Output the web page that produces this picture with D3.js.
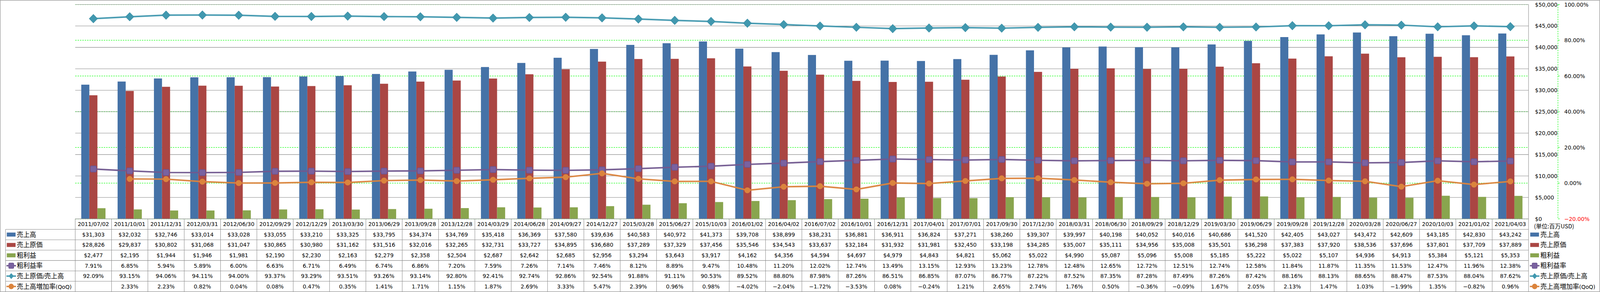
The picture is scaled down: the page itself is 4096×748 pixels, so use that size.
<!DOCTYPE html>
<html><head><meta charset="utf-8">
<script src="https://cdn.jsdelivr.net/npm/d3@7"></script>
<style>html,body{margin:0;padding:0;background:#fff;overflow:hidden}</style>
</head><body>
<svg id="c" width="4096" height="748" viewBox="0 0 4701 858" preserveAspectRatio="none"></svg>
<script>
const dates = ["2011/07/02","2011/10/01","2011/12/31","2012/03/31","2012/06/30","2012/09/29","2012/12/29","2013/03/30","2013/06/29","2013/09/28","2013/12/28","2014/03/29","2014/06/28","2014/09/27","2014/12/27","2015/03/28","2015/06/27","2015/10/03","2016/01/02","2016/04/02","2016/07/02","2016/10/01","2016/12/31","2017/04/01","2017/07/01","2017/09/30","2017/12/30","2018/03/31","2018/06/30","2018/09/29","2018/12/29","2019/03/30","2019/06/29","2019/09/28","2019/12/28","2020/03/28","2020/06/27","2020/10/03","2021/01/02","2021/04/03"];
const sales = [31303,32032,32746,33014,33028,33055,33210,33325,33795,34374,34769,35418,36369,37580,39636,40583,40972,41373,39708,38899,38231,36881,36911,36824,37271,38260,39307,39997,40198,40052,40016,40686,41520,42405,43027,43472,42609,43185,42830,43242];
const cost = [28826,29837,30802,31068,31047,30865,30980,31162,31516,32016,32265,32731,33727,34895,36680,37289,37329,37456,35546,34543,33637,32184,31932,31981,32450,33198,34285,35007,35111,34956,35008,35501,36298,37383,37920,38536,37696,37801,37709,37889];
const gross = [2477,2195,1944,1946,1981,2190,2230,2163,2279,2358,2504,2687,2642,2685,2956,3294,3643,3917,4162,4356,4594,4697,4979,4843,4821,5062,5022,4990,5087,5096,5008,5185,5222,5022,5107,4936,4913,5384,5121,5353];
const marginRate = [7.91,6.85,5.94,5.89,6.00,6.63,6.71,6.49,6.74,6.86,7.20,7.59,7.26,7.14,7.46,8.12,8.89,9.47,10.48,11.20,12.02,12.74,13.49,13.15,12.93,13.23,12.78,12.48,12.65,12.72,12.51,12.74,12.58,11.84,11.87,11.35,11.53,12.47,11.96,12.38];
const costRatio = [92.09,93.15,94.06,94.11,94.00,93.37,93.29,93.51,93.26,93.14,92.80,92.41,92.74,92.86,92.54,91.88,91.11,90.53,89.52,88.80,87.98,87.26,86.51,86.85,87.07,86.77,87.22,87.52,87.35,87.28,87.49,87.26,87.42,88.16,88.13,88.65,88.47,87.53,88.04,87.62];
const qoq = [null,2.33,2.23,0.82,0.04,0.08,0.47,0.35,1.41,1.71,1.15,1.87,2.69,3.33,5.47,2.39,0.96,0.98,-4.02,-2.04,-1.72,-3.53,0.08,-0.24,1.21,2.65,2.74,1.76,0.50,-0.36,-0.09,1.67,2.05,2.13,1.47,1.03,-1.99,1.35,-0.82,0.96];
const leftTicks = [0,5000,10000,15000,20000,25000,30000,35000,40000,45000,50000];
const rightTicks = [-20,0,20,40,60,80,100];
const seriesNames = ["売上高","売上原価","粗利益","粗利益率","売上原価/売上高","売上高増加率(QoQ)"];
const unitLabel = "(単位:百万USD)";

const C = {blue:"#4572A7", red:"#AA4643", green:"#89A54E", purple:"#71588F", teal:"#4198AF", orange:"#DB843D"};
const grid = "#868686", tline = "#8a8a8a";
const LAT = "DejaVu Sans", CJK = "Noto Sans CJK JP";

const svg = d3.select("#c");
svg.append("rect").attr("width",4701).attr("height",858).attr("fill","#fff");

const PL=221, PR=4491, PT=13.3, PB=643;
const x = d3.scaleBand().domain(dates).range([PL,PR]).padding(0);
const bw = x.bandwidth();
const bars = ["sales","cost","gross"];
const x1 = d3.scaleBand().domain(bars).range([0,bw]).paddingInner(0).paddingOuter(0.75);
const yL = d3.scaleLinear().domain([0,50000]).range([PB,PT]);
const yR = d3.scaleLinear().domain([-20,100]).range([PB,PT]);

// green dashed gridlines (right axis)
svg.append("g").selectAll("line").data(rightTicks).join("line")
  .attr("x1",PL).attr("x2",PR).attr("y1",d=>yR(d)).attr("y2",d=>yR(d))
  .attr("stroke","#00ff00").attr("stroke-width",1.3).attr("stroke-dasharray","4,3");
// gray gridlines (left axis)
svg.append("g").selectAll("line").data(leftTicks).join("line")
  .attr("x1",PL).attr("x2",PR).attr("y1",d=>yL(d)).attr("y2",d=>yL(d))
  .attr("stroke",grid).attr("stroke-width",1.2);
// plot right border
svg.append("line").attr("x1",PR).attr("x2",PR).attr("y1",PT).attr("y2",PB).attr("stroke",grid).attr("stroke-width",1.2);

// bars
const barData = [[sales,C.blue,"sales"],[cost,C.red,"cost"],[gross,C.green,"gross"]];
barData.forEach(([vals,col,key])=>{
  svg.append("g").selectAll("rect").data(vals).join("rect")
    .attr("x",(d,i)=>x(dates[i])+x1(key)).attr("width",x1.bandwidth())
    .attr("y",d=>yL(d)).attr("height",d=>yL(0)-yL(d)).attr("fill",col);
});

// lines
const cx = i => x(dates[i]) + bw/2;
function drawLine(vals,col){
  const line = d3.line().defined(d=>d!=null).x((d,i)=>cx(i)).y(d=>yR(d));
  svg.append("path").datum(vals).attr("d",line).attr("fill","none")
    .attr("stroke",col).attr("stroke-width",4.5).attr("stroke-linejoin","round").attr("opacity",0.95);
}
drawLine(marginRate,C.purple);
drawLine(costRatio,C.teal);
drawLine(qoq,C.orange);
// markers
svg.append("g").selectAll("rect").data(marginRate).join("rect")
  .attr("x",(d,i)=>cx(i)-8.8).attr("y",d=>yR(d)-8.8).attr("width",17.6).attr("height",17.6)
  .attr("rx",3).attr("fill","#7a62a0").attr("stroke","#6c548e").attr("stroke-width",2);
svg.append("g").selectAll("path").data(costRatio).join("path")
  .attr("d",(d,i)=>{const X=cx(i),Y=yR(d);return `M${X},${Y-12.3}L${X+12},${Y}L${X},${Y+12.3}L${X-12},${Y}Z`;})
  .attr("fill",C.teal).attr("stroke","#3e92a8").attr("stroke-width",1.5).attr("stroke-linejoin","round");
svg.append("g").selectAll("circle").data(qoq.map((v,i)=>[v,i]).filter(d=>d[0]!=null)).join("circle")
  .attr("cx",d=>cx(d[1])).attr("cy",d=>yR(d[0])).attr("r",8.7).attr("fill",C.orange);

// right-side axes
const AX = 4577.5;
svg.append("line").attr("x1",AX).attr("x2",AX).attr("y1",PT).attr("y2",PB)
  .attr("stroke","#00ff00").attr("stroke-width",1.3).attr("stroke-dasharray","4,3");
svg.append("g").selectAll("line").data(rightTicks).join("line")
  .attr("x1",AX).attr("x2",AX+5).attr("y1",d=>yR(d)).attr("y2",d=>yR(d))
  .attr("stroke","#00ff00").attr("stroke-width",1.3);
const fD = d3.format("$,");
svg.append("g").selectAll("text").data(leftTicks).join("text")
  .attr("x",4510).attr("y",d=>yL(d)).attr("dominant-baseline","central")
  .attr("font-family",LAT).attr("font-size",16).attr("fill","#000").text(d=>fD(d));
svg.append("g").selectAll("text").data(rightTicks).join("text")
  .attr("x",4596).attr("y",d=>yR(d)).attr("dominant-baseline","central")
  .attr("font-family",LAT).attr("font-size",16).attr("fill",d=>d<0?"#ff0000":"#000")
  .text(d=>d3.format(".2f")(d)+"%");
svg.append("text").attr("x",4507).attr("y",665+6).attr("font-family",CJK).attr("font-size",17)
  .attr("fill","#000").text(unitLabel);

// table
const rowE = [643,674,704.5,735,765.5,796,826.5,857];
const tg = svg.append("g");
// horizontal lines
tg.append("line").attr("x1",PL).attr("x2",PR).attr("y1",rowE[0]).attr("y2",rowE[0]).attr("stroke",tline).attr("stroke-width",1.3);
rowE.slice(1,7).forEach(y=>tg.append("line").attr("x1",16.3).attr("x2",PR).attr("y1",y).attr("y2",y).attr("stroke",tline).attr("stroke-width",1.2));
// vertical lines
const colEdges = dates.map(d=>x(d)).concat([PR]);
tg.selectAll("line.v").data(colEdges).join("line").attr("class","v")
  .attr("x1",d=>d).attr("x2",d=>d).attr("y1",rowE[0]).attr("y2",rowE[7]).attr("stroke",tline).attr("stroke-width",1.2);
tg.append("line").attr("x1",16.3).attr("x2",16.3).attr("y1",rowE[1]).attr("y2",rowE[7]).attr("stroke",tline).attr("stroke-width",1.2);

const rc = rowE.slice(1,7).map((y,i)=>(y+rowE[i+2])/2);
// header dates
tg.append("g").selectAll("text").data(dates).join("text")
  .attr("x",d=>x(d)+bw/2).attr("y",(rowE[0]+rowE[1])/2).attr("text-anchor","middle").attr("dominant-baseline","central")
  .attr("font-family",LAT).attr("font-size",16).attr("fill","#000").text(d=>d);
const fP = v => v==null ? "" : d3.format(".2f")(v)+"%";
const rows = [[sales,fD],[cost,fD],[gross,fD],[marginRate,fP],[costRatio,fP],[qoq,fP]];
rows.forEach(([vals,f],r)=>{
  tg.append("g").selectAll("text").data(vals).join("text")
    .attr("x",(d,i)=>cx(i)).attr("y",rc[r]).attr("text-anchor","middle").attr("dominant-baseline","central")
    .attr("font-family",LAT).attr("font-size",16).attr("fill","#000").text(d=>f(d));
});

// mixed label text
function mixed(g, str, X, Y){
  const t = g.append("text").attr("x",X).attr("y",Y+6.6).attr("fill","#000");
  const re = /[\u3000-\u9fff\uff00-\uffef]+|[^\u3000-\u9fff\uff00-\uffef]+/g;
  (str.match(re)||[]).forEach(run=>{
    const isC = /[\u3000-\u9fff\uff00-\uffef]/.test(run);
    t.append("tspan").attr("font-family",isC?CJK:LAT).attr("font-size",isC?19:16).text(run);
  });
}
const keyCols = [C.blue,C.red,C.green,C.purple,C.teal,C.orange];
function key(g, r, kx, cy){
  const col = keyCols[r];
  if (r<3){
    g.append("rect").attr("x",kx).attr("y",cy-5.9).attr("width",25.7).attr("height",11.8).attr("fill",col);
  } else {
    g.append("line").attr("x1",kx-1).attr("x2",kx+27).attr("y1",cy).attr("y2",cy).attr("stroke",col).attr("stroke-width",4);
    const mx = kx+13;
    if (r===3) g.append("rect").attr("x",mx-7.5).attr("y",cy-8).attr("width",15).attr("height",16).attr("rx",3).attr("fill","#7a62a0").attr("stroke","#6c548e").attr("stroke-width",1.5);
    if (r===4) g.append("path").attr("d",`M${mx},${cy-8.5}L${mx+7.5},${cy}L${mx},${cy+8.5}L${mx-7.5},${cy}Z`).attr("fill",col);
    if (r===5) g.append("circle").attr("cx",mx).attr("cy",cy).attr("r",8).attr("fill",col);
  }
}
const lg = svg.append("g");
seriesNames.forEach((n,r)=>{
  key(lg, r, 20, rc[r]);
  mixed(lg, n, 49.3, rc[r]);
  key(lg, r, 4496, rc[r]);
  mixed(lg, n, 4525.7, rc[r]);
});

// outer border
svg.append("rect").attr("x",0.6).attr("y",1).attr("width",4699.6).attr("height",856).attr("fill","none").attr("stroke",grid).attr("stroke-width",1.3);
</script>
</body></html>
